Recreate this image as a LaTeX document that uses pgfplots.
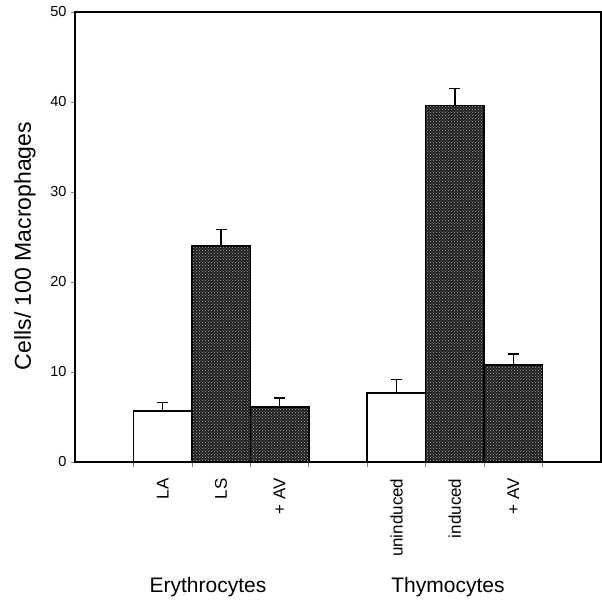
\documentclass[border=0pt]{standalone}
\usepackage{pgfplots}
\pgfplotsset{compat=1.18}
\usepackage{fontspec}
\setmainfont{Liberation Sans}
\usetikzlibrary{patterns}
\definecolor{stip}{RGB}{30,30,30}
\begin{document}
\begin{tikzpicture}
\begin{axis}[
  at={(0,0)}, anchor=south west,
  scale only axis, width=526pt, height=450pt,
  xmin=-0.5, xmax=8.5, ymin=0, ymax=50,
  ytick={0,10,20,30,40,50},
  xtick={1,2,3,5,6,7},
  xticklabels={LA,LS,+ AV,uninduced,induced,+ AV},
  minor xtick={0.5,1.5,2.5,3.5,4.5,5.5,6.5,7.5},
  major x tick style={draw=none},
  minor x tick style={line width=0.6pt},
  major y tick style={line width=1pt},
  tick align=outside,
  minor tick length=5pt, major tick length=4pt,
  xtick pos=bottom, ytick pos=left,
  /pgf/number format/assume math mode=true,
  xticklabel style={rotate=90, anchor=east, xshift=-9pt, font=\fontsize{17}{19}\selectfont},
  yticklabel style={font=\fontsize{14.5}{16}\selectfont, xshift=-1pt},
  axis line style={line width=1.6pt},
  ybar, bar width=1, bar shift=0pt,
  error bars/y dir=plus, error bars/y explicit,
  error bars/error bar style={line width=1.3pt, black},
  error bars/error mark options={rotate=90, mark size=5.5pt, line width=1.3pt, black},
]
\addplot[draw=black, line width=1.6pt, fill=white] coordinates {
  (1,5.7) +- (0,0.9)
  (5,7.7) +- (0,1.5)
};
\addplot[draw=black, line width=1.6pt, fill=stip,
  postaction={pattern=crosshatch dots, pattern color=gray!60}] coordinates {
  (2,24.0) +- (0,1.8)
  (3,6.1) +- (0,1.0)
  (6,39.6) +- (0,1.9)
  (7,10.8) +- (0,1.2)
};
\end{axis}
\node[rotate=90, font=\fontsize{23}{26}\selectfont] at (-50pt,216pt) {Cells/ 100 Macrophages};
\node[font=\fontsize{21}{24}\selectfont] at (133pt,-125pt) {Erythrocytes};
\node[font=\fontsize{21}{24}\selectfont] at (373pt,-125pt) {Thymocytes};
\path (-75pt,-136pt) rectangle (527pt,462pt);
\end{tikzpicture}
\end{document}
